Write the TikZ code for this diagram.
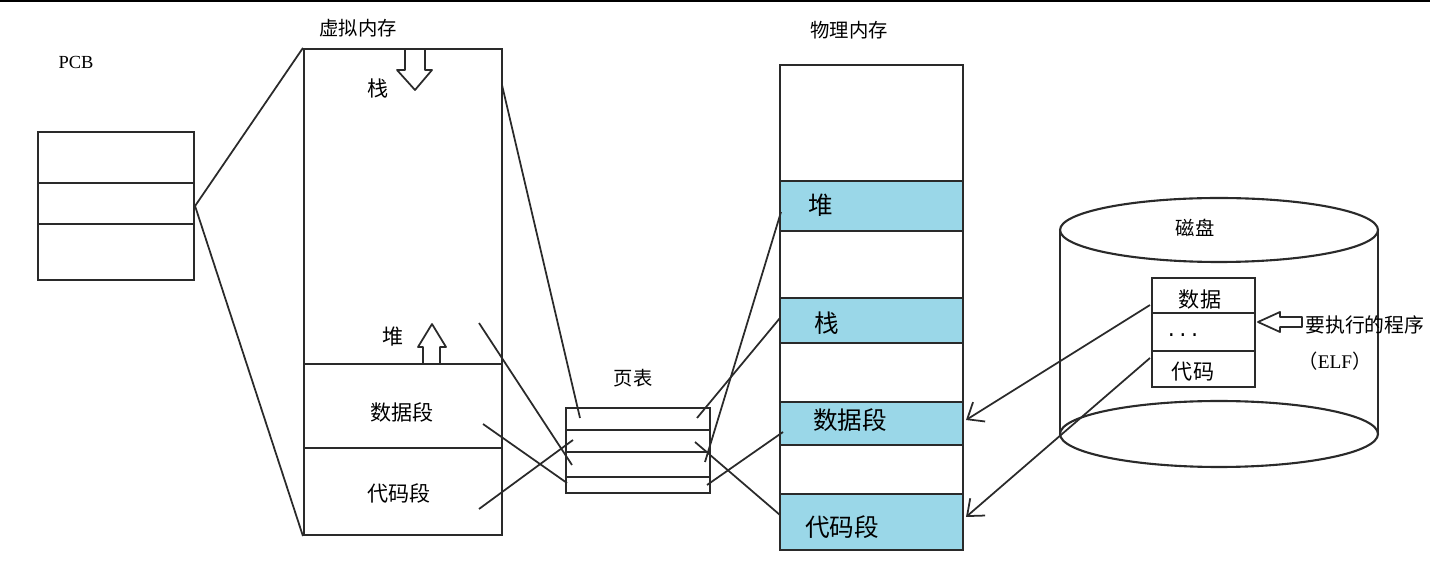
\documentclass[tikz,border=0pt]{standalone}
\usepackage{fontspec}
\newfontfamily\cjk{Noto Sans CJK SC}
\newfontfamily\lat{Liberation Serif}
\newfontfamily\mono{Liberation Mono}
\usetikzlibrary{fit,arrows.meta}
\definecolor{band}{HTML}{9AD7E8}
\definecolor{ink}{HTML}{2A2A2A}
\tikzset{
  box/.style={draw=ink, line width=1.2pt, inner sep=0pt},
  sep/.style={draw=ink, line width=1.2pt},
  bandbox/.style={fill=band, inner sep=0pt},
  link/.style={draw=ink, line width=1pt},
  diskarrow/.style={draw=ink, line width=1pt, -{Straight Barb[length=8pt,width=13pt]}},
  blockarrow/.style={draw=ink, line width=1pt, fill=white, line join=round},
  title/.style={font=\cjk\fontsize{11}{13}\selectfont, inner sep=0pt},
  vlbl/.style={font=\cjk\fontsize{12}{14}\selectfont, inner sep=0pt},
  plbl/.style={font=\cjk\fontsize{14}{16}\selectfont, inner sep=0pt},
}
\begin{document}
\begin{tikzpicture}[x=0.02cm,y=-0.02cm]
\useasboundingbox (0,0) rectangle (1430,570);
\draw[line width=1.2pt] (0,1) -- (1430,1);

% PCB
\node[font=\lat\fontsize{10.5}{12}\selectfont, inner sep=0pt] (pcbl) at (76,62) {PCB};
\node[box, fit={(38,132)(194,280)}] (pcb) {};
\draw[sep] (38,183) -- (194,183);
\draw[sep] (38,224) -- (194,224);

% virtual memory
\node[title] (vml) at (358,28) {虚拟内存};
\node[box, fit={(304,49)(502,535)}] (vm) {};
\draw[sep] (304,364) -- (502,364);
\draw[sep] (304,448) -- (502,448);
\node[vlbl] (vstack) at (378,88) {栈};
\node[vlbl] (vheap) at (393,337) {堆};
\node[vlbl] (vdata) at (402,412) {数据段};
\node[vlbl] (vcode) at (399,493) {代码段};
\draw[blockarrow] (405,49) -- (425,49) -- (425,70) -- (432,70) -- (415,90) -- (397,70) -- (405,70) -- cycle;
\draw[blockarrow] (423,364) -- (440,364) -- (440,347) -- (446,347) -- (432,324) -- (418,347) -- (423,347) -- cycle;

% PCB links
\draw[link] (pcb.east) -- (vm.north west);
\draw[link] (pcb.east) -- (vm.south west);

% page table
\node[title] (ptl) at (633,378) {页表};
\node[box, fit={(566,408)(710,493)}] (pt) {};
\draw[sep] (566,430) -- (710,430);
\draw[sep] (566,452) -- (710,452);
\draw[sep] (566,477) -- (710,477);

% physical memory
\node[title] (pml) at (849,30) {物理内存};
\node[bandbox, fit={(780,181)(963,231)}] (pheap) {};
\node[bandbox, fit={(780,298)(963,343)}] (pstack) {};
\node[bandbox, fit={(780,402)(963,445)}] (pdata) {};
\node[bandbox, fit={(780,494)(963,550)}] (pcode) {};
\node[box, fit={(780,65)(963,550)}] (pm) {};
\foreach \yy in {181,231,298,343,402,445,494} \draw[sep] (780,\yy) -- (963,\yy);
\node[plbl] (pheapl) at (821,205) {堆};
\node[plbl] (pstackl) at (827,323) {栈};
\node[plbl] (pdatal) at (850,420) {数据段};
\node[plbl] (pcodel) at (842,527) {代码段};

% connector end points
\coordinate (vStackR) at (502,85);
\coordinate (pt1a) at (580,418);
\coordinate (vHeapR) at (479,323);
\coordinate (pt3a) at (572,465);
\coordinate (vDataR) at (483,424);
\coordinate (pt4a) at (567,483);
\coordinate (vCodeR) at (479,509);
\coordinate (pt2a) at (573,440);
\coordinate (pt1b) at (697,418);
\coordinate (pStackL) at (780,318);
\coordinate (pt3b) at (705,462);
\coordinate (pHeapL) at (781,212);
\coordinate (pt2b) at (695,442);
\coordinate (pCodeL) at (780,515);
\coordinate (pt4b) at (707,485);
\coordinate (pDataL) at (783,432);

\draw[link] (vStackR) -- (pt1a);
\draw[link] (vHeapR) -- (pt3a);
\draw[link] (vDataR) -- (pt4a);
\draw[link] (vCodeR) -- (pt2a);
\draw[link] (pt1b) -- (pStackL);
\draw[link] (pt3b) -- (pHeapL);
\draw[link] (pt2b) -- (pCodeL);
\draw[link] (pt4b) -- (pDataL);

% disk
\draw[sep] (1060,230) -- (1060,434);
\draw[sep] (1378,230) -- (1378,434);
\draw[sep] (1219,230) ellipse [x radius=3.18cm, y radius=0.64cm];
\draw[sep] (1219,434) ellipse [x radius=3.18cm, y radius=0.66cm];
\node[title] (diskl) at (1195,228) {磁盘};
\node[box, fit={(1152,278)(1255,387)}] (elf) {};
\draw[sep] (1152,313) -- (1255,313);
\draw[sep] (1152,351) -- (1255,351);
\node[vlbl] (elfdata) at (1200,300) {数据};
\node[font=\mono\fontsize{11}{13}\selectfont, inner sep=0pt] (elfdots) at (1183,335) {...};
\node[vlbl] (elfcode) at (1193,372) {代码};
\draw[blockarrow] (1258,322) -- (1280,312) -- (1280,317) -- (1302,317) -- (1302,327) -- (1280,327) -- (1280,332) -- cycle;
\node[font=\cjk\fontsize{11.3}{13}\selectfont, inner sep=0pt, anchor=west] (prog) at (1305,325) {要执行的程序};
\node[font=\cjk\fontsize{11}{13}\selectfont, inner sep=0pt] (elfl) at (1335,361) {（{\lat ELF}）};

\coordinate (dDataL) at (1150,305);
\coordinate (dCodeL) at (1150,358);
\coordinate (pDataR) at (966,420);
\coordinate (pCodeR) at (966,517);
\draw[diskarrow] (dDataL) -- (pDataR);
\draw[diskarrow] (dCodeL) -- (pCodeR);
\end{tikzpicture}
\end{document}
